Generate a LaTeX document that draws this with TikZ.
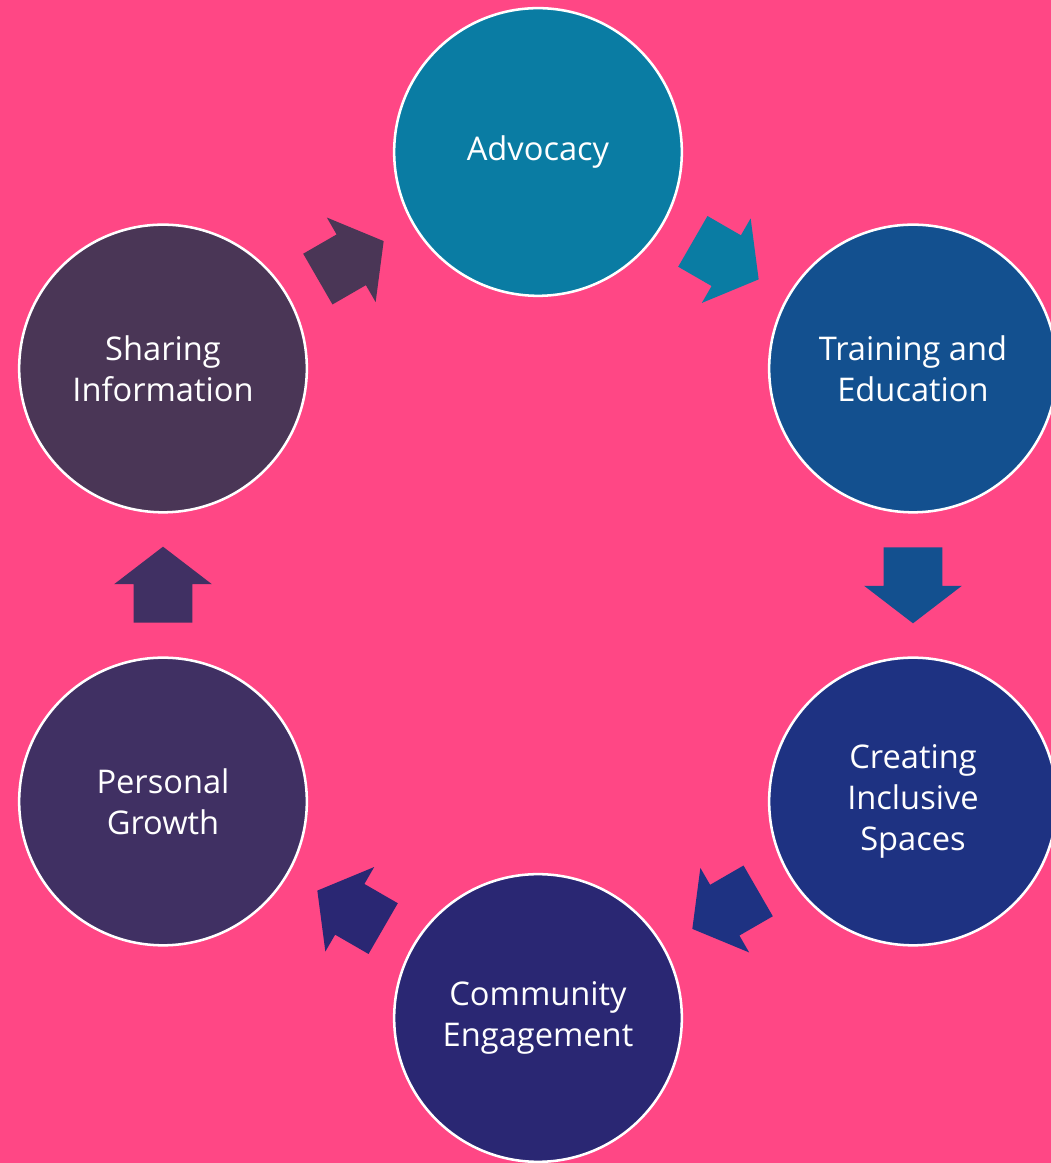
\documentclass[tikz,border=0pt]{standalone}
\usepackage{fontspec}
\setmainfont{Open Sans}
\usepackage{tikz}
\usetikzlibrary{shapes.arrows, calc}
\definecolor{bgpink}{HTML}{FF4785}
\definecolor{advocacy}{HTML}{0A7CA3}
\definecolor{training}{HTML}{13508F}
\definecolor{creating}{HTML}{1E3282}
\definecolor{community}{HTML}{2A2773}
\definecolor{personal}{HTML}{403063}
\definecolor{sharing}{HTML}{4A3656}
\tikzstyle{stage} = [circle, minimum size=7.19cm, inner sep=0pt, draw=white, line width=1.8pt, text=white, align=center, font=\fontsize{23.2}{29}\selectfont]
\tikzstyle{blockarrow} = [single arrow, draw=none, inner xsep=0pt, inner ysep=0.725cm, minimum height=1.9cm, single arrow head extend=0.4875cm, single arrow tip angle=105, anchor=tail]

\begin{document}
\begin{tikzpicture}[x=0.025cm, y=0.025cm]
	\clip (0,0) rectangle (1051,1163);
	\fill[bgpink] (0,0) rectangle (1051,1163);
	\coordinate (c) at (538,578);

	\node (adv) [stage, fill=advocacy] at ($(c)+(90:433)$) {Advocacy};
	\node (tra) [stage, fill=training] at ($(c)+(30:433)$) {Training and\\Education};
	\node (cre) [stage, fill=creating] at ($(c)+(-30:433)$) {Creating\\Inclusive\\Spaces};
	\node (com) [stage, fill=community] at ($(c)+(-90:433)$) {Community\\Engagement};
	\node (per) [stage, fill=personal] at ($(c)+(-150:433)$) {Personal\\Growth};
	\node (sha) [stage, fill=sharing] at ($(c)+(150:433)$) {Sharing\\Information};

	\node (a1) [blockarrow, fill=advocacy, rotate=-30] at ($(adv)!0.5!(tra)+(150:38)$) {};
	\node (a2) [blockarrow, fill=training, rotate=-90] at ($(tra)!0.5!(cre)+(90:38)$) {};
	\node (a3) [blockarrow, fill=creating, rotate=-150] at ($(cre)!0.5!(com)+(30:38)$) {};
	\node (a4) [blockarrow, fill=community, rotate=150] at ($(com)!0.5!(per)+(-30:38)$) {};
	\node (a5) [blockarrow, fill=personal, rotate=90] at ($(per)!0.5!(sha)+(-90:38)$) {};
	\node (a6) [blockarrow, fill=sharing, rotate=30] at ($(sha)!0.5!(adv)+(-150:38)$) {};

\end{tikzpicture}
\end{document}
